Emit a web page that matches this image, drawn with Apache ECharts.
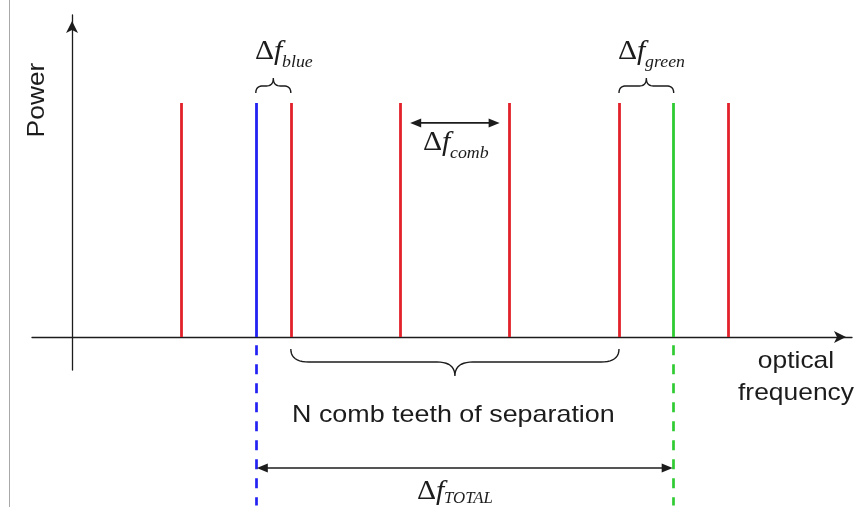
<!DOCTYPE html>
<html><head><meta charset="utf-8">
<script src="https://cdn.jsdelivr.net/npm/echarts@6/dist/echarts.min.js"></script>
<style>html,body{margin:0;padding:0;background:#fff}#c{width:860px;height:507px}</style>
</head><body><div id="c"></div>
<script>
// ---- data (frequency in units of the comb spacing, power normalised) ----
const combTeeth = [1, 2, 3, 4, 5, 6];     // red comb lines
const blueLaser = 1.68;                    // blue laser line
const greenLaser = 5.5;                    // green laser line
const linePower = 1;                       // height of every line
const axisTitles = ['Power', 'optical', 'frequency'];
const captionText = 'N comb teeth of separation';

const RED = '#e3212b', BLUE = '#2222f2', GREEN = '#2fcb32', INK = '#1c1c1c';
const chart = echarts.init(document.getElementById('c'), null, {renderer: 'canvas'});

function quad(p0, c, p1, n) {
  const pts = [];
  for (let i = 0; i <= n; i++) {
    const t = i / n, u = 1 - t;
    pts.push([u*u*p0[0] + 2*u*t*c[0] + t*t*p1[0], u*u*p0[1] + 2*u*t*c[1] + t*t*p1[1]]);
  }
  return pts;
}
function bracePts(xL, xR, yE, yF, yT, rE, rM) {
  const xm = (xL + xR) / 2;
  let pts = [];
  pts = pts.concat(quad([xL, yE], [xL, yF], [xL + rE, yF], 10));
  pts = pts.concat(quad([xm - rM, yF], [xm, yF], [xm, yT], 10));
  pts = pts.concat(quad([xm, yT], [xm, yF], [xm + rM, yF], 10));
  pts = pts.concat(quad([xR - rE, yF], [xR, yF], [xR, yE], 10));
  return pts;
}
function braceSeries(data, yVal, endOff, flatOff, tipOff, rE, rM) {
  return {
    type: 'custom', clip: false, silent: true,
    data: data, encode: {x: [0, 1]},
    renderItem: function (params, api) {
      const a = api.coord([api.value(0), yVal]);
      const b = api.coord([api.value(1), yVal]);
      const yE = a[1] + endOff;
      return {type: 'polyline', shape: {points: bracePts(a[0], b[0], yE, yE + flatOff, yE + tipOff, rE, rM)},
              style: {stroke: INK, lineWidth: 1.4, fill: null}};
    }
  };
}
function arrowSeries(data, inset) {
  return {
    type: 'custom', clip: false, silent: true,
    data: data, encode: {x: [0, 1], y: 2},
    renderItem: function (params, api) {
      const a = api.coord([api.value(0), api.value(2)]);
      const b = api.coord([api.value(1), api.value(2)]);
      const x1 = a[0] + inset, x2 = b[0] - inset, y = a[1];
      const L = 11, H = 4.5;
      return {type: 'group', children: [
        {type: 'line', shape: {x1: x1 + 4, y1: y, x2: x2 - 4, y2: y}, style: {stroke: INK, lineWidth: 1.6}},
        {type: 'polygon', shape: {points: [[x1, y], [x1 + L, y - H], [x1 + L, y + H]]}, style: {fill: INK}},
        {type: 'polygon', shape: {points: [[x2, y], [x2 - L, y - H], [x2 - L, y + H]]}, style: {fill: INK}}
      ]};
    }
  };
}
function vlines(xs, color, y0, y1, dash) {
  return {
    type: 'lines', coordinateSystem: 'cartesian2d', clip: false, silent: true,
    data: xs.map(x => ({coords: [[x, y0], [x, y1]]})),
    lineStyle: {color: color, width: dash ? 2.7 : 2.8, opacity: 1, type: dash || 'solid', cap: 'butt'},
    symbol: 'none'
  };
}
function txt(x, y, s, opt) {
  return {type: 'text', x: x, y: y, scaleX: opt.sx || 1, rotation: opt.rot || 0, z: 10,
    style: Object.assign({text: s, fill: INK, fontFamily: 'Liberation Sans', fontSize: 24,
      align: opt.align || 'left', verticalAlign: 'middle', textAlign: opt.align || 'left', textVerticalAlign: 'middle'}, opt.style || {})};
}
function delta(x, y, sub, subY) {
  return [
    {type: 'text', x: x, y: y, scaleX: 1.1, z: 10,
     style: {text: '{a|Δ}{b|f}', fill: INK, align: 'left', verticalAlign: 'middle',
       rich: {a: {fontFamily: 'Liberation Serif', fontSize: 27, fill: INK},
              b: {fontFamily: 'Liberation Serif', fontSize: 27, fontStyle: 'italic', fill: INK}}}},
    {type: 'text', x: x + 27, y: subY, scaleX: 1.05, z: 10,
     style: {text: sub, fill: INK, fontFamily: 'Liberation Serif', fontStyle: 'italic', fontSize: sub === 'TOTAL' ? 16 : 17,
       align: 'left', verticalAlign: 'middle'}}
  ];
}

const option = {
  backgroundColor: '#fff',
  animation: false,
  grid: {left: 32, right: 8, top: 15, bottom: 137},
  xAxis: {type: 'value', min: -0.366, max: 7.13, splitLine: {show: false},
    axisLabel: {show: false}, axisTick: {show: false},
    axisLine: {onZero: true, symbol: ['none', 'arrow'], symbolSize: [9, 12], symbolOffset: [0, -6],
      lineStyle: {color: INK, width: 1.3}}},
  yAxis: {type: 'value', min: -0.141, max: 1.376, splitLine: {show: false},
    axisLabel: {show: false}, axisTick: {show: false},
    axisLine: {onZero: true, symbol: ['none', 'arrow'], symbolSize: [9, 12], symbolOffset: [0, -6],
      lineStyle: {color: INK, width: 1.3}}},
  series: [
    vlines(combTeeth, RED, 0, linePower),
    vlines([blueLaser], BLUE, 0, linePower),
    vlines([greenLaser], GREEN, 0, linePower),
    vlines([blueLaser], BLUE, -0.035, -0.72, [10, 9]),
    vlines([greenLaser], GREEN, -0.035, -0.72, [10, 9]),
    braceSeries([[blueLaser, combTeeth[1]], [combTeeth[4], greenLaser]], linePower, -10, -7, -15, 7, 7),
    braceSeries([[combTeeth[1], combTeeth[4]]], 0, 12, 13, 27, 18, 18),
    arrowSeries([[combTeeth[2], combTeeth[3], 0.915]], 10),
    arrowSeries([[blueLaser, greenLaser, -0.56]], 1)
  ],
  graphic: [
    {type: 'line', shape: {x1: 9.5, y1: 0, x2: 9.5, y2: 507}, style: {stroke: '#a8a8a8', lineWidth: 1}},
    txt(37, 100, axisTitles[0], {rot: Math.PI / 2, align: 'center', sx: 1.1}),
    txt(796, 361.6, axisTitles[1], {align: 'center', sx: 1.1}),
    txt(796, 393.6, axisTitles[2], {align: 'center', sx: 1.1}),
    txt(292, 415, captionText, {sx: 1.12})
  ].concat(delta(255, 52, 'blue', 63), delta(618, 52, 'green', 63),
           delta(423, 143, 'comb', 154), delta(417, 492, 'TOTAL', 499))
};
chart.setOption(option);
</script>
</body></html>
